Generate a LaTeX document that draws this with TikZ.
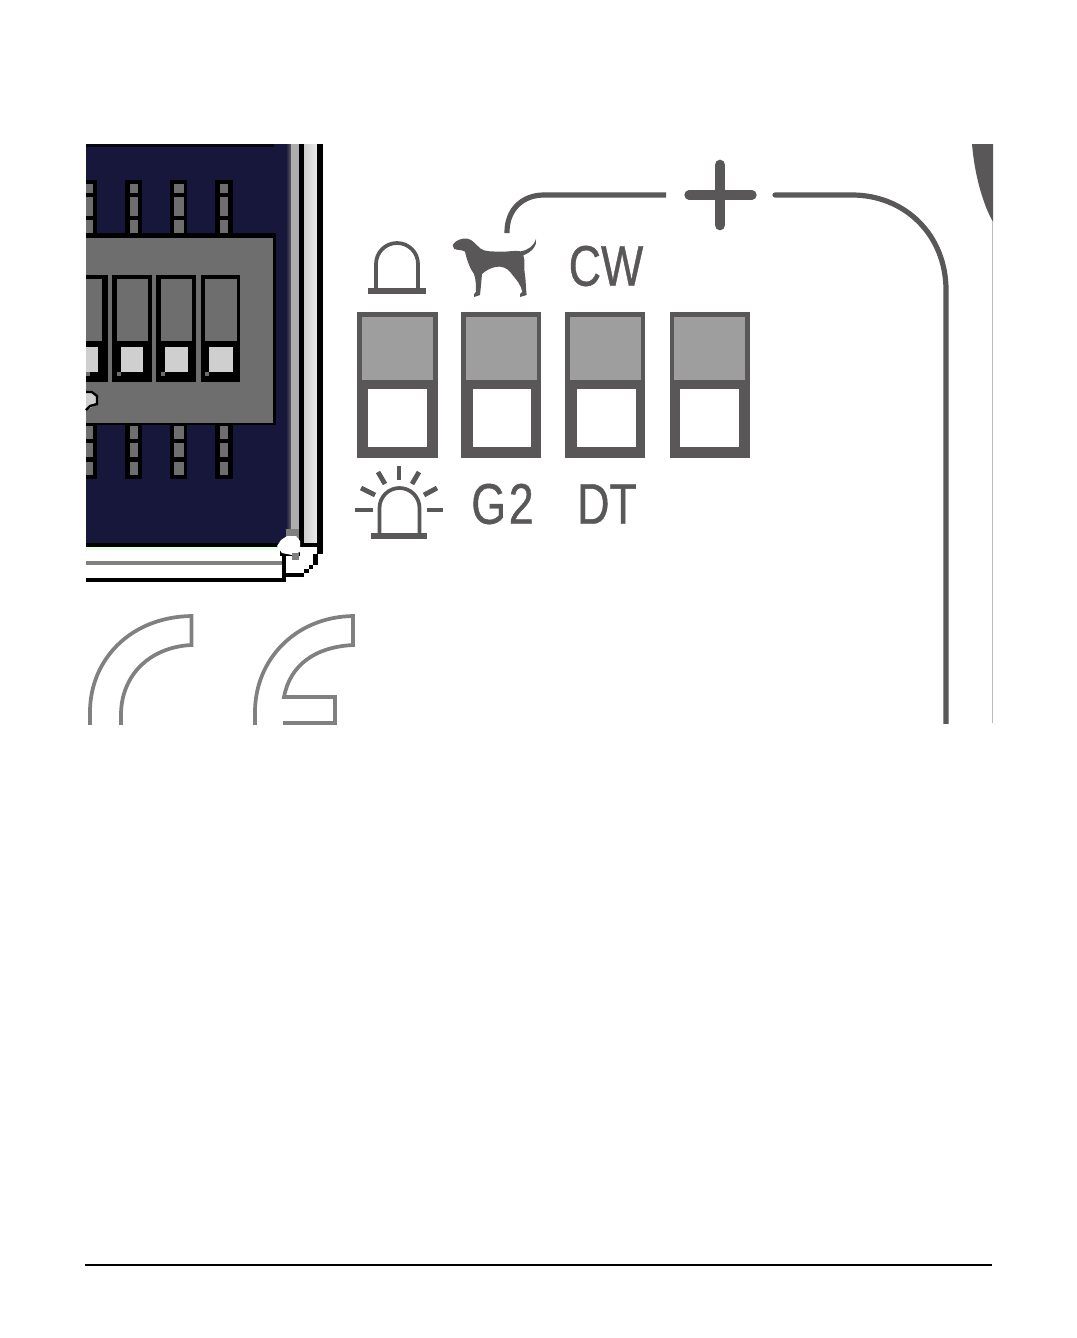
\documentclass[tikz,border=0pt]{standalone}
\usepackage{fontspec}
\newfontfamily\dinfont[FakeStretch=0.78,FakeBold=0.7]{Liberation Sans}
\definecolor{ink}{HTML}{595757}
\definecolor{navy}{HTML}{16173A}
\definecolor{chip}{HTML}{6E6E6E}
\definecolor{lamp}{HTML}{9E9E9E}
\definecolor{keycap}{HTML}{CFCFCF}
\definecolor{outl}{HTML}{808080}
\tikzset{
  lbl/.style={text=ink,inner sep=0pt,font=\dinfont\fontsize{43pt}{43pt}\selectfont},
  wire/.style={draw=ink,line width=3.9pt},
  icon/.style={draw=ink,line width=2.8pt},
  ray/.style={draw=ink,line width=3.6pt},
  outline/.style={draw=outl,line width=2.8pt},
}
% dark slider: x0 x1 | gray x0 x1 | white x0 x1
\newcommand{\slot}[6]{%
  \fill[ink] (#1,312) rectangle (#2,458);
  \fill[lamp] (#3,317) rectangle (#4,380);
  \fill[white] (#5,389) rectangle (#6,447);
}
% chip switch
\newcommand{\dip}[6]{%
  \fill[black] (#1,275) rectangle (#2,382);
  \fill[chip] (#3,279) rectangle (#4,341);
  \fill[keycap] (#5,347) rectangle (#6,372);
  \fill[chip] (#3,372) rectangle ++(4,4);
}
% pins: black x0 x1, gray x0 x1
\newcommand{\pins}[4]{%
  \fill[black] (#1,180) rectangle (#2,233);
  \fill[chip] (#3,184) rectangle (#4,193);
  \fill[chip] (#3,197) rectangle (#4,216);
  \fill[chip] (#3,220) rectangle (#4,233);
  \fill[black] (#1,425) rectangle (#2,479);
  \fill[chip] (#3,426) rectangle (#4,439);
  \fill[chip] (#3,443) rectangle (#4,457);
  \fill[chip] (#3,462) rectangle (#4,475);
}
\begin{document}
\begin{tikzpicture}[x=0.75pt,y=-0.75pt]
\useasboundingbox (0,0) rectangle (1077,1338);
\fill[white] (0,0) rectangle (1077,1338);

% board
\fill[navy] (86,144) rectangle (288,543);
\fill[black!70!navy] (86,144) rectangle (274,147);
\shade[left color=navy,right color=lamp!70!black,shading angle=90] (286,144) rectangle (292,543);
\fill[lamp!85!white] (291,144) rectangle (299,543);
\fill[black] (299,144) rectangle (304,547);
\shade[left color=keycap,right color=white!92!black] (304,144) rectangle (317,543);
\fill[black] (317,144) rectangle (323,554);
\fill[black] (304,543) rectangle (323,547);

% lower frame
\fill[black] (86,543) rectangle (288,547);
\fill[green!10!white] (86,547) rectangle (282,550);
\fill[outl] (86,561) rectangle (282,565);
\fill[black] (86,578) rectangle (286,582);
\fill[black] (282,553) rectangle (286,582);
\fill[black] (286,573) rectangle (304,577);
\fill[black] (304,569) rectangle (309,573);
\fill[black] (309,565) rectangle (313,569);
\fill[black] (313,554) rectangle (318,565);

% pins and chip
\pins{86}{97}{86}{93}
\pins{125}{142}{130}{138}
\pins{170}{187}{174}{184}
\pins{215}{233}{220}{228}
\fill[black] (86,233) rectangle (276,425);
\fill[chip] (86,238) rectangle (273,423);
\dip{86}{108}{86}{102}{86}{98}
\dip{112}{152}{117}{148}{121}{143}
\dip{156}{196}{161}{192}{165}{188}
\dip{201}{240}{205}{237}{209}{233}
\fill[keycap] (86,391) -- (93,391) -- (97,395) -- (97,402) -- (92,407) -- (86,410) -- cycle;
\draw[black,line width=1.8pt] (86,392) -- (92,392) -- (97,396) -- (97,404) -- (90,406) -- (86,410);

% corner blob
\fill[black] (280,542) rectangle (300,556);
\fill[outl] (286,529) rectangle (299,538);
\fill[white] (277,546) -- (281,540) -- (287,536) -- (296,536) -- (300,541) -- (300,552) -- (292,555) -- (282,553) -- cycle;
\fill[outl] (292,553) rectangle (299,560);

% outlined shapes
\begin{scope}
\clip (80,600) rectangle (370,724.5);
\draw[outline] (90,730) -- (90,712) .. controls (90,660) and (130,617) .. (191.5,616) -- (191.5,645) .. controls (150,647) and (121,675) .. (121,715) -- (121,730);
\draw[outline] (255,730) -- (255,712) .. controls (255,660) and (295,617) .. (353,616) -- (353,645) .. controls (315,647) and (290,665) .. (284,697) -- (335,697) -- (335,723) -- (283,723);
\end{scope}

% sliders
\slot{357}{438}{362}{433}{368}{427}
\slot{461}{541}{466}{537}{473}{531}
\slot{565}{645}{570}{641}{577}{636}
\slot{670}{750}{674}{745}{680}{739}

% bell
\fill[ink] (368,288) rectangle (426,294);
\draw[icon] (376,290) -- (376,264) arc[start angle=180,end angle=360,radius=21] -- (418,290);

% siren
\fill[ink] (371,533) rectangle (427,539);
\draw[icon] (379.5,535) -- (379.5,508) arc[start angle=180,end angle=360,radius=20] -- (419.5,535);
\draw[ray] (399,466) -- (399,480);
\draw[ray] (378,472) -- (385,484);
\draw[ray] (419,472) -- (412,484);
\draw[ray] (361,488) -- (375,495);
\draw[ray] (437,488) -- (424,495);
\draw[ray] (355,510) -- (373,510);
\draw[ray] (427,510) -- (443,510);

% dog
\begin{scope}[shift={(350,150)},x=0.25pt,y=-0.25pt]
\fill[ink] (308,285) .. controls (315,272) and (335,263) .. (352,266)
 .. controls (368,268) and (378,285) .. (392,296)
 .. controls (405,306) and (430,304) .. (450,305)
 .. controls (475,306) and (495,300) .. (512,304)
 .. controls (535,300) and (552,288) .. (558,266)
 .. controls (562,285) and (548,305) .. (520,316)
 .. controls (527,335) and (520,350) .. (525,375)
 .. controls (528,395) and (527,415) .. (530,435)
 -- (510,441) -- (510,432) -- (517,425)
 .. controls (513,405) and (500,390) .. (490,378)
 .. controls (478,362) and (470,352) .. (450,350)
 .. controls (425,350) and (410,360) .. (396,372)
 .. controls (394,395) and (392,415) .. (390,435)
 -- (372,441) -- (372,433) -- (378,425)
 .. controls (378,405) and (378,390) .. (372,372)
 .. controls (360,355) and (352,335) .. (345,305)
 .. controls (335,298) and (322,302) .. (312,296) -- cycle;
\end{scope}

% texts
\node[lbl] (cw) at (606,266) {CW};
\node[lbl] (gtwo) at (502.5,504) {G\kern2pt 2};
\node[lbl] (dt) at (607,504) {DT};

% wires
\draw[wire] (507,233) -- (507,232) .. controls (507,210) and (522,195) .. (544,195) -- (666,195);
\begin{scope}
\clip (760,150) rectangle (960,723);
\draw[wire,line cap=round] (775,195) -- (852,195) .. controls (905,195) and (946,235) .. (946,290) -- (946,740);
\end{scope}
\draw[ink,line width=7pt,line cap=round] (689,195) -- (752,195);
\draw[ink,line width=8pt,line cap=round] (720,165) -- (720,225);

% right edge
\fill[ink] (972,144) -- (993,144) -- (993,222) .. controls (985,208) and (975,180) .. (972,144) -- cycle;
\draw[lamp!70!white,line width=1pt] (992.5,222) -- (992.5,723);

% rule
\draw[black,line width=1.6pt] (85,1264.6) -- (992,1264.6);
\end{tikzpicture}
\end{document}
